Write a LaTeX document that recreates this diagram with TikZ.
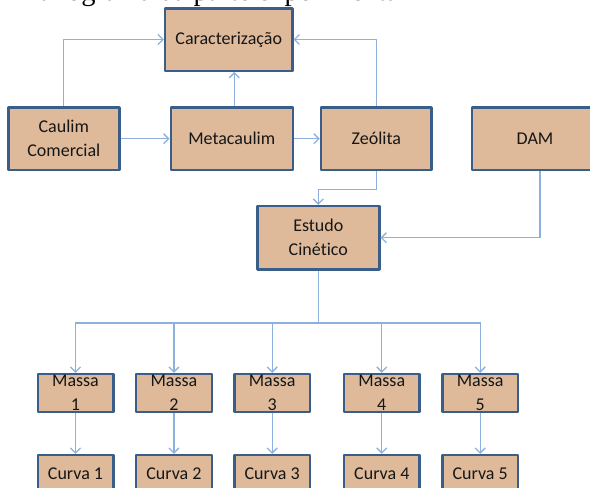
\documentclass[tikz,border=0pt]{standalone}
\usepackage{fontspec}
\setmainfont{Carlito}[Ligatures=NoCommon]
\newfontfamily\capfont{Liberation Serif}
\usetikzlibrary{arrows.meta}
\definecolor{boxfill}{RGB}{222,186,154}
\definecolor{boxline}{RGB}{58,94,138}
\definecolor{conncol}{RGB}{141,176,222}
\definecolor{txt}{RGB}{22,22,22}
\begin{document}
\begin{tikzpicture}[x=1pt,y=-1pt,
  box/.style={draw=boxline, line width=2.4pt, fill=boxfill, line join=round, inner sep=0pt, text=txt, align=center, font=\fontsize{18}{24}\selectfont},
  conn/.style={draw=conncol, line width=1.3pt, -{Straight Barb[length=5pt,width=10pt]}},
  plain/.style={draw=conncol, line width=1.3pt},
  lbl/.style={text=txt, align=center, inner sep=0pt, font=\fontsize{18}{24}\selectfont}
]
\clip (0,0) rectangle (590,488);
\node[anchor=base west, inner sep=0pt, font=\capfont\fontsize{28.5}{30}\selectfont] (cap) at (21,0.3) {fluxograma da parte experimental};

\node[box, minimum width=127.3, minimum height=62.4] (car) at (228.7,39.5) {Caracterização};
\node[box, minimum width=111, minimum height=62.7] (cau) at (63.8,138.7) {Caulim\\Comercial};
\node[box, minimum width=122, minimum height=62.7] (met) at (231.7,138.7) {Metacaulim};
\node[box, minimum width=110.7, minimum height=62.7] (zeo) at (376.3,138.7) {Zeólita};
\node[box, minimum width=126.6, minimum height=62.7] (dam) at (535,138.7) {DAM};
\node[box, minimum width=122, minimum height=63.3] (est) at (318.3,237.7) {Estudo\\Cinético};

\foreach \n/\x in {1/75.5, 2/173.9, 3/272.2, 4/381.8, 5/480.2} {
  \node[box, minimum width=75.6, minimum height=37.7, label={[lbl]center:{Massa\\\n}}] (m\n) at (\x,392.9) {};
  \node[box, minimum width=75.6, minimum height=37.7] (c\n) at (\x,473.9) {Curva \n};
}

\draw[conn] (cau.north) |- (car.west);
\draw[conn] ([xshift=2.6pt]met.north) -- ([xshift=2.6pt]met.north |- car.south);
\draw[conn] (cau.east) -- (met.west);
\draw[conn] (met.east) -- (zeo.west);
\draw[conn] (zeo.north) |- (car.east);
\draw[conn] (zeo.south) -- ++(0,18.3) -| (est.north);
\draw[conn] ([xshift=5pt]dam.south) |- (est.east);
\draw[plain] (est.south) -- ++(0,52.3) coordinate (bus);
\foreach \n in {1,...,5} {
  \draw[conn] (bus) -| (m\n.north);
  \draw[conn] (m\n.south) -- (c\n.north);
}
\end{tikzpicture}
\end{document}
